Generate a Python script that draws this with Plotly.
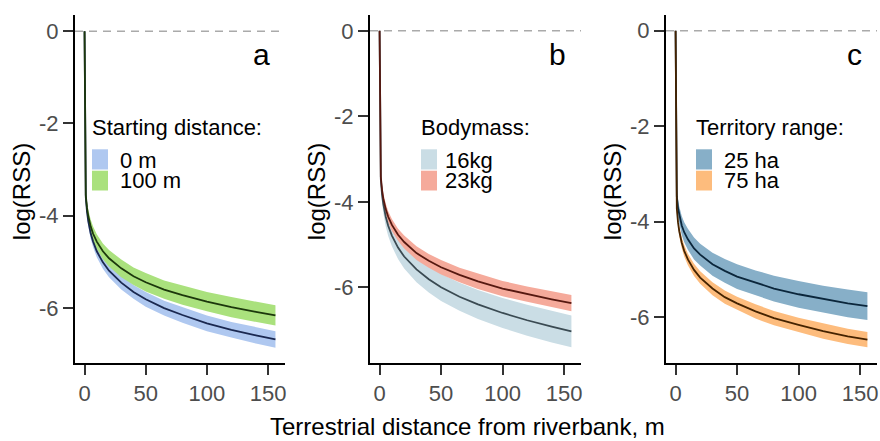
import plotly.graph_objects as go

W, H = 880, 441

# Terrestrial distance from the riverbank (m)
distance_m = [0, 1, 2, 3, 5, 7, 10, 15, 20, 30, 40, 50, 65, 80, 100, 120, 140, 156]

# Panel a: starting distance
start0_mean = [0, -3.59, -3.91, -4.11, -4.38, -4.56, -4.77, -5.01, -5.19, -5.45, -5.65, -5.81, -6.00, -6.15, -6.33, -6.47, -6.59, -6.68]
start0_hi = [0, -3.49, -3.80, -4.00, -4.26, -4.44, -4.64, -4.87, -5.05, -5.30, -5.50, -5.65, -5.84, -5.98, -6.16, -6.30, -6.41, -6.50]
start0_lo = [0, -3.69, -4.02, -4.22, -4.50, -4.68, -4.90, -5.15, -5.33, -5.60, -5.80, -5.97, -6.16, -6.32, -6.50, -6.64, -6.77, -6.86]

start100_mean = [0, -3.55, -3.83, -4.00, -4.23, -4.39, -4.56, -4.77, -4.92, -5.14, -5.31, -5.44, -5.60, -5.72, -5.86, -5.98, -6.08, -6.16]
start100_hi = [0, -3.42, -3.69, -3.86, -4.08, -4.23, -4.40, -4.60, -4.74, -4.95, -5.12, -5.24, -5.40, -5.51, -5.65, -5.76, -5.86, -5.94]
start100_lo = [0, -3.68, -3.97, -4.14, -4.38, -4.55, -4.72, -4.94, -5.10, -5.33, -5.50, -5.64, -5.80, -5.93, -6.07, -6.20, -6.30, -6.38]

# Panel b: body mass
mass16_mean = [0, -3.47, -3.83, -4.05, -4.35, -4.56, -4.79, -5.07, -5.28, -5.58, -5.81, -6.00, -6.22, -6.40, -6.60, -6.77, -6.92, -7.03]
mass16_hi = [0, -3.29, -3.63, -3.84, -4.12, -4.32, -4.54, -4.80, -5.00, -5.28, -5.50, -5.68, -5.89, -6.06, -6.25, -6.41, -6.55, -6.66]
mass16_lo = [0, -3.65, -4.03, -4.26, -4.58, -4.80, -5.04, -5.34, -5.56, -5.88, -6.12, -6.32, -6.55, -6.74, -6.95, -7.13, -7.29, -7.40]

mass23_mean = [0, -3.42, -3.72, -3.92, -4.17, -4.35, -4.54, -4.77, -4.94, -5.20, -5.38, -5.53, -5.71, -5.86, -6.03, -6.16, -6.28, -6.37]
mass23_hi = [0, -3.32, -3.61, -3.80, -4.04, -4.22, -4.40, -4.63, -4.79, -5.04, -5.22, -5.36, -5.54, -5.68, -5.85, -5.98, -6.09, -6.18]
mass23_lo = [0, -3.52, -3.83, -4.04, -4.30, -4.48, -4.68, -4.91, -5.09, -5.36, -5.54, -5.70, -5.88, -6.04, -6.21, -6.34, -6.47, -6.56]

# Panel c: territory range
terr25_mean = [0, -3.47, -3.72, -3.87, -4.08, -4.22, -4.37, -4.56, -4.69, -4.89, -5.03, -5.15, -5.28, -5.40, -5.52, -5.62, -5.71, -5.77]
terr25_hi = [0, -3.30, -3.53, -3.68, -3.88, -4.01, -4.15, -4.33, -4.46, -4.65, -4.78, -4.89, -5.02, -5.13, -5.24, -5.34, -5.42, -5.48]
terr25_lo = [0, -3.64, -3.91, -4.06, -4.28, -4.43, -4.59, -4.79, -4.92, -5.13, -5.28, -5.41, -5.54, -5.67, -5.80, -5.90, -6.00, -6.06]

terr75_mean = [0, -3.73, -4.02, -4.20, -4.44, -4.61, -4.79, -5.01, -5.17, -5.40, -5.58, -5.71, -5.88, -6.02, -6.16, -6.29, -6.40, -6.47]
terr75_hi = [0, -3.64, -3.92, -4.10, -4.33, -4.49, -4.67, -4.88, -5.04, -5.27, -5.44, -5.57, -5.73, -5.87, -6.01, -6.13, -6.24, -6.31]
terr75_lo = [0, -3.82, -4.12, -4.31, -4.55, -4.73, -4.91, -5.14, -5.30, -5.54, -5.72, -5.85, -6.03, -6.17, -6.31, -6.45, -6.56, -6.63]

x_ticks = [0, 50, 100, 150]
y_ticks = [-6, -4, -2, 0]
y_tick_text = ["-6", "-4", "-2", "0"]

legend_titles = ["Starting distance:", "Bodymass:", "Territory range:"]
legend_labels = [["0 m", "100 m"], ["16kg", "23kg"], ["25 ha", "75 ha"]]
panel_letters = ["a", "b", "c"]

panels = [
    [(start0_mean, start0_lo, start0_hi), (start100_mean, start100_lo, start100_hi)],
    [(mass16_mean, mass16_lo, mass16_hi), (mass23_mean, mass23_lo, mass23_hi)],
    [(terr25_mean, terr25_lo, terr25_hi), (terr75_mean, terr75_lo, terr75_hi)],
]

fill_colors = [["#afc8f0", "#aae17d"], ["#cadde5", "#f5aa9b"], ["#87afc8", "#fdbc7d"]]
line_colors = [["#1a2850", "#1c380c"], ["#3a4a52", "#561810"], ["#0b263b", "#452300"]]

# layout geometry in pixels
axis_lr = [(75, 285), (370, 581), (666, 877)]
plot_top, plot_bottom = 15, 363
y_ranges = [[-7.19, 0.35], [-7.77, 0.37], [-6.96, 0.33]]
x_range = [-7.8, 163.8]
key_left = [92, 421, 696]
label_gap = [26, 22, 26]

FONT = "Liberation Sans, Arial, Helvetica, sans-serif"


def px(x):
    return x / W


def py(y):
    return 1 - y / H


fig = go.Figure()
shapes = []
annotations = []

for i in range(3):
    suffix = "" if i == 0 else str(i + 1)
    xa, ya = "x" + suffix, "y" + suffix

    # confidence bands
    for j, (mean, lo, hi) in enumerate(panels[i]):
        fig.add_trace(go.Scatter(
            x=distance_m + distance_m[::-1],
            y=hi + lo[::-1],
            fill="toself", fillcolor=fill_colors[i][j],
            mode="lines", line=dict(width=0, color=fill_colors[i][j]),
            xaxis=xa, yaxis=ya, hoverinfo="skip", showlegend=False,
        ))
    # fitted lines
    for j, (mean, lo, hi) in enumerate(panels[i]):
        fig.add_trace(go.Scatter(
            x=distance_m, y=mean, mode="lines",
            line=dict(width=1.8, color=line_colors[i][j]),
            xaxis=xa, yaxis=ya, showlegend=False,
            name=legend_labels[i][j],
        ))

    left, right = axis_lr[i]
    axis_common = dict(
        showline=True, linecolor="black", linewidth=2,
        ticks="outside", ticklen=10, tickwidth=1.5, tickcolor="#333333",
        tickfont=dict(family=FONT, size=22, color="#4d4d4d"),
        showgrid=False, zeroline=False,
    )
    fig.update_layout(**{
        "xaxis" + suffix: dict(
            domain=[px(left), px(right)], anchor=ya, range=x_range,
            tickvals=x_ticks, **axis_common,
        ),
        "yaxis" + suffix: dict(
            domain=[py(plot_bottom), py(plot_top)], anchor=xa, range=y_ranges[i],
            tickvals=y_ticks, ticktext=y_tick_text, **axis_common,
        ),
    })

    # reference line at log(RSS) = 0
    shapes.append(dict(
        type="line", xref=xa + " domain", yref=ya, x0=0, x1=1, y0=0, y1=0,
        line=dict(color="#aaaaaa", width=1.5, dash="8px,6px"), layer="below",
    ))

    # y-axis title
    annotations.append(dict(
        text="log(RSS)", textangle=-90, xref="paper", yref="paper",
        x=px(left - 53.5), y=py(191.7), xanchor="center", yanchor="middle",
        showarrow=False, font=dict(family=FONT, size=24, color="black"),
    ))

    # panel letter
    annotations.append(dict(
        text=panel_letters[i], xref="paper", yref="paper",
        x=px(right - 13.5), y=py(54.6), xanchor="right", yanchor="middle",
        showarrow=False, font=dict(family=FONT, size=30, color="black"),
    ))

    # legend
    kl = key_left[i]
    annotations.append(dict(
        text=legend_titles[i], xref="paper", yref="paper",
        x=px(kl - 2), y=py(128), xanchor="left", yanchor="middle",
        showarrow=False, font=dict(family=FONT, size=22, color="black"),
    ))
    key_rows = [(149.3, 169.5), (170.7, 190.5)]
    label_y = [160.5, 180.5]
    for j in range(2):
        y0, y1 = key_rows[j]
        shapes.append(dict(
            type="rect", xref="paper", yref="paper",
            x0=px(kl), x1=px(kl + 16), y0=py(y1), y1=py(y0),
            fillcolor=fill_colors[i][j], line=dict(width=0),
        ))
        annotations.append(dict(
            text=legend_labels[i][j], xref="paper", yref="paper",
            x=px(kl + label_gap[i]), y=py(label_y[j]), xanchor="left", yanchor="middle",
            showarrow=False, font=dict(family=FONT, size=22, color="black"),
        ))

# shared x-axis title
annotations.append(dict(
    text="Terrestrial distance from riverbank, m", xref="paper", yref="paper",
    x=px(467.5), y=py(426.7), xanchor="center", yanchor="middle",
    showarrow=False, font=dict(family=FONT, size=24, color="black"),
))

fig.update_layout(
    width=W, height=H,
    margin=dict(l=0, r=0, t=0, b=0),
    paper_bgcolor="white", plot_bgcolor="white",
    showlegend=False,
    shapes=shapes, annotations=annotations,
    font=dict(family=FONT),
)

fig.write_html("out.html")
